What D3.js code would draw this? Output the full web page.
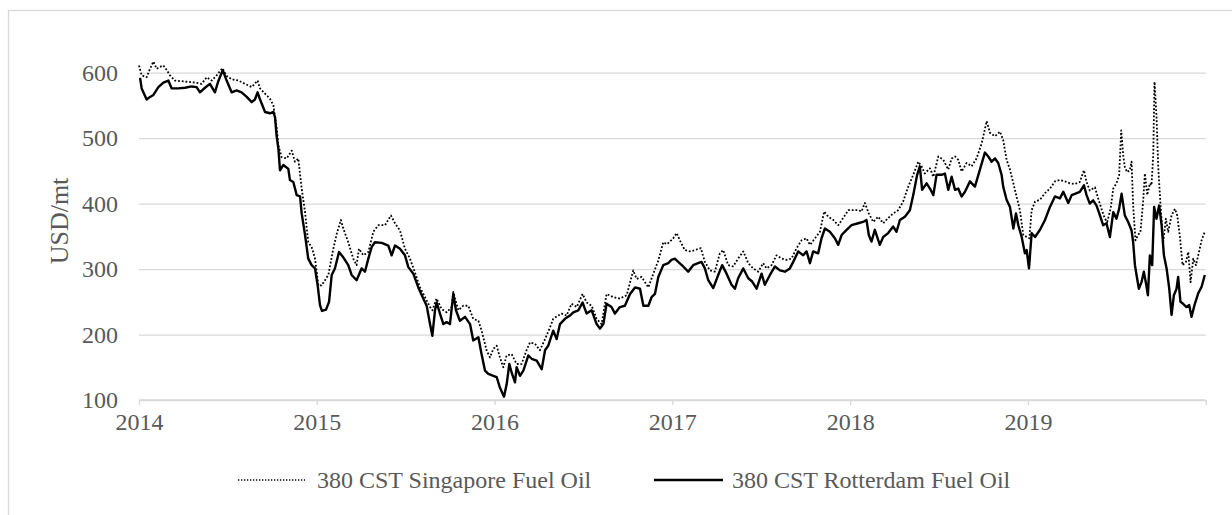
<!DOCTYPE html>
<html>
<head>
<meta charset="utf-8">
<script src="https://cdn.jsdelivr.net/npm/d3@7/dist/d3.min.js"></script>
<style>
	body { margin: 0; background: #fff; }
</style>
</head>
<body>
<svg id="chart" width="1232" height="515"></svg>
<script>
// [year (fractional), USD/mt]
var singapore = [
	[2014.000,611],[2014.015,596],[2014.043,593],[2014.062,606],[2014.081,617],[2014.099,606],[2014.118,609],
	[2014.137,611],[2014.156,604],[2014.174,596],[2014.202,588],[2014.240,587],[2014.277,586],[2014.315,585],
	[2014.352,583],[2014.381,593],[2014.409,588],[2014.437,596],[2014.469,607],[2014.493,595],[2014.521,590],
	[2014.559,588],[2014.596,583],[2014.634,578],[2014.667,588],[2014.681,576],[2014.709,568],[2014.737,560],
	[2014.756,550],[2014.765,532],[2014.774,517],[2014.784,489],[2014.802,471],[2014.831,469],[2014.859,481],
	[2014.877,464],[2014.896,469],[2014.915,423],[2014.934,387],[2014.952,341],[2014.971,334],[2014.990,316],
	[2015.009,275],[2015.027,275],[2015.065,291],[2015.093,331],[2015.115,357],[2015.136,375],[2015.149,362],
	[2015.177,341],[2015.205,316],[2015.224,306],[2015.237,331],[2015.262,321],[2015.290,326],[2015.318,357],
	[2015.346,367],[2015.384,367],[2015.417,382],[2015.440,370],[2015.468,359],[2015.496,331],[2015.524,316],
	[2015.552,295],[2015.580,272],[2015.609,257],[2015.637,242],[2015.650,237],[2015.674,255],[2015.702,239],
	[2015.730,234],[2015.759,242],[2015.768,265],[2015.796,237],[2015.824,244],[2015.852,244],[2015.880,224],
	[2015.909,221],[2015.927,206],[2015.955,176],[2015.974,165],[2015.993,178],[2016.012,183],[2016.030,165],
	[2016.049,150],[2016.068,168],[2016.096,170],[2016.124,155],[2016.152,155],[2016.180,176],[2016.199,188],
	[2016.227,186],[2016.255,176],[2016.284,193],[2016.312,211],[2016.330,224],[2016.358,229],[2016.377,232],
	[2016.405,229],[2016.433,247],[2016.462,242],[2016.495,262],[2016.518,249],[2016.546,244],[2016.574,224],
	[2016.602,216],[2016.630,262],[2016.668,257],[2016.705,255],[2016.743,260],[2016.780,298],[2016.799,285],
	[2016.827,288],[2016.865,272],[2016.893,293],[2016.921,313],[2016.949,341],[2016.970,338],[2016.986,342],
	[2017.005,347],[2017.024,355],[2017.042,344],[2017.070,329],[2017.099,327],[2017.127,329],[2017.160,332],
	[2017.183,311],[2017.211,298],[2017.239,296],[2017.267,324],[2017.286,329],[2017.314,306],[2017.342,304],
	[2017.370,316],[2017.399,327],[2017.427,309],[2017.455,301],[2017.483,296],[2017.511,309],[2017.530,301],
	[2017.558,306],[2017.586,321],[2017.614,316],[2017.642,314],[2017.670,316],[2017.699,332],[2017.727,344],
	[2017.755,347],[2017.774,337],[2017.802,347],[2017.830,357],[2017.854,388],[2017.877,380],[2017.905,375],
	[2017.933,367],[2017.961,378],[2017.989,390],[2018.017,390],[2018.045,390],[2018.064,388],[2018.083,401],
	[2018.105,385],[2018.130,372],[2018.158,380],[2018.186,370],[2018.214,378],[2018.242,385],[2018.270,390],
	[2018.298,403],[2018.327,426],[2018.355,444],[2018.383,464],[2018.402,457],[2018.420,446],[2018.449,454],
	[2018.468,441],[2018.496,472],[2018.524,467],[2018.552,452],[2018.571,469],[2018.590,472],[2018.608,467],
	[2018.627,449],[2018.655,462],[2018.683,457],[2018.711,469],[2018.740,492],[2018.768,526],[2018.787,508],
	[2018.815,503],[2018.843,510],[2018.861,497],[2018.880,467],[2018.899,452],[2018.927,421],[2018.955,390],
	[2018.974,352],[2018.993,349],[2019.008,347],[2019.021,390],[2019.040,403],[2019.068,406],[2019.096,416],
	[2019.124,423],[2019.152,434],[2019.180,436],[2019.208,434],[2019.236,431],[2019.264,430],[2019.292,433],
	[2019.315,451],[2019.330,433],[2019.348,420],[2019.377,425],[2019.395,408],[2019.414,392],[2019.433,377],
	[2019.446,372],[2019.465,392],[2019.480,423],[2019.498,431],[2019.513,443],[2019.525,512],[2019.536,474],
	[2019.545,456],[2019.558,448],[2019.573,451],[2019.583,464],[2019.592,397],[2019.605,344],[2019.620,352],
	[2019.633,357],[2019.648,403],[2019.658,446],[2019.671,413],[2019.686,431],[2019.695,428],[2019.705,474],
	[2019.712,586],[2019.723,535],[2019.733,456],[2019.746,397],[2019.761,341],[2019.776,377],[2019.789,357],
	[2019.808,382],[2019.827,392],[2019.840,382],[2019.855,349],[2019.870,306],[2019.889,311],[2019.902,326],
	[2019.915,280],[2019.930,316],[2019.945,306],[2019.958,321],[2019.977,344],[2019.995,357]
];

var rotterdam = [
	[2014.006,592],[2014.015,576],[2014.043,559],[2014.062,563],[2014.081,566],[2014.109,578],[2014.137,585],
	[2014.165,588],[2014.184,576],[2014.221,576],[2014.259,577],[2014.296,579],[2014.324,578],[2014.343,570],
	[2014.371,577],[2014.399,583],[2014.427,570],[2014.446,587],[2014.471,604],[2014.493,588],[2014.521,570],
	[2014.549,573],[2014.577,570],[2014.606,563],[2014.634,555],[2014.652,559],[2014.667,570],[2014.681,559],
	[2014.709,540],[2014.737,538],[2014.756,540],[2014.765,532],[2014.774,504],[2014.784,484],[2014.793,451],
	[2014.812,459],[2014.840,453],[2014.849,436],[2014.868,433],[2014.887,413],[2014.906,411],[2014.915,385],
	[2014.934,352],[2014.952,316],[2014.971,306],[2014.990,301],[2015.005,275],[2015.018,245],[2015.029,236],
	[2015.052,238],[2015.069,250],[2015.084,291],[2015.102,301],[2015.125,326],[2015.149,318],[2015.177,306],
	[2015.196,291],[2015.224,283],[2015.252,301],[2015.271,296],[2015.290,316],[2015.309,334],[2015.327,341],
	[2015.365,340],[2015.402,336],[2015.421,321],[2015.440,336],[2015.468,331],[2015.496,321],[2015.515,303],
	[2015.543,293],[2015.571,272],[2015.599,255],[2015.618,244],[2015.637,216],[2015.650,198],[2015.665,237],
	[2015.674,249],[2015.693,232],[2015.712,216],[2015.730,219],[2015.749,216],[2015.768,262],[2015.783,237],
	[2015.805,221],[2015.834,227],[2015.862,216],[2015.880,191],[2015.909,196],[2015.927,170],[2015.946,145],
	[2015.965,140],[2015.993,137],[2016.012,135],[2016.030,119],[2016.053,105],[2016.068,124],[2016.083,155],
	[2016.096,142],[2016.115,127],[2016.124,150],[2016.143,137],[2016.162,145],[2016.190,168],[2016.209,163],
	[2016.237,160],[2016.265,147],[2016.284,176],[2016.302,183],[2016.330,206],[2016.349,193],[2016.368,216],
	[2016.396,224],[2016.424,229],[2016.443,234],[2016.471,237],[2016.495,249],[2016.518,232],[2016.546,237],
	[2016.574,216],[2016.593,209],[2016.612,216],[2016.630,247],[2016.658,242],[2016.677,232],[2016.705,242],
	[2016.733,244],[2016.762,262],[2016.790,272],[2016.818,270],[2016.837,244],[2016.865,244],[2016.883,257],
	[2016.902,262],[2016.921,288],[2016.949,306],[2016.977,309],[2016.995,314],[2017.014,316],[2017.033,311],
	[2017.061,304],[2017.089,296],[2017.117,306],[2017.145,309],[2017.164,311],[2017.183,301],[2017.202,283],
	[2017.230,271],[2017.258,291],[2017.280,306],[2017.305,293],[2017.333,276],[2017.352,270],[2017.370,286],
	[2017.399,301],[2017.427,286],[2017.449,281],[2017.474,270],[2017.502,293],[2017.520,276],[2017.549,291],
	[2017.577,304],[2017.605,298],[2017.633,296],[2017.661,301],[2017.680,311],[2017.708,327],[2017.736,321],
	[2017.755,327],[2017.774,309],[2017.792,327],[2017.820,324],[2017.839,347],[2017.858,362],[2017.886,357],
	[2017.914,347],[2017.933,337],[2017.952,352],[2017.980,360],[2018.008,367],[2018.045,370],[2018.073,372],
	[2018.092,375],[2018.105,352],[2018.120,342],[2018.139,360],[2018.167,337],[2018.186,349],[2018.214,355],
	[2018.242,365],[2018.261,357],[2018.280,375],[2018.308,380],[2018.336,390],[2018.355,413],[2018.377,444],
	[2018.392,457],[2018.405,421],[2018.430,431],[2018.449,423],[2018.468,413],[2018.486,444],[2018.515,444],
	[2018.533,446],[2018.552,421],[2018.571,441],[2018.590,421],[2018.608,423],[2018.627,411],[2018.646,418],
	[2018.674,434],[2018.702,426],[2018.730,452],[2018.758,478],[2018.777,472],[2018.796,464],[2018.815,469],
	[2018.833,462],[2018.852,444],[2018.861,426],[2018.880,406],[2018.899,395],[2018.918,362],[2018.933,385],
	[2018.946,367],[2018.965,349],[2018.983,324],[2018.993,329],[2019.006,301],[2019.021,355],[2019.040,349],
	[2019.068,360],[2019.096,375],[2019.124,395],[2019.152,411],[2019.180,408],[2019.199,418],[2019.227,401],
	[2019.246,413],[2019.264,415],[2019.292,418],[2019.315,428],[2019.330,413],[2019.348,400],[2019.367,405],
	[2019.386,397],[2019.405,382],[2019.423,367],[2019.442,370],[2019.461,349],[2019.480,387],[2019.498,377],
	[2019.513,392],[2019.527,415],[2019.545,382],[2019.564,372],[2019.583,359],[2019.592,341],[2019.602,306],
	[2019.611,291],[2019.624,270],[2019.639,280],[2019.652,296],[2019.663,280],[2019.675,260],[2019.686,321],
	[2019.699,306],[2019.710,395],[2019.723,377],[2019.738,397],[2019.752,367],[2019.765,321],[2019.780,301],
	[2019.795,270],[2019.808,230],[2019.821,260],[2019.836,270],[2019.845,288],[2019.858,250],[2019.873,247],
	[2019.892,242],[2019.907,245],[2019.920,227],[2019.939,247],[2019.958,263],[2019.977,273],[2019.995,291]
];

var yearTicks = [2014, 2015, 2016, 2017, 2018, 2019, 2020];
var yearLabels = [2014, 2015, 2016, 2017, 2018, 2019];
var valueTicks = [100, 200, 300, 400, 500, 600];
var seriesNames = ["380 CST Singapore Fuel Oil", "380 CST Rotterdam Fuel Oil"];
var yTitle = "USD/mt";

var serif = "'Liberation Serif', 'Times New Roman', serif";
var textCol = "#595959";
var grid = "#d9d9d9";

var svg = d3.select("#chart");

// chart area border (runs off the right and bottom of the frame)
svg.append("rect")
	.attr("x", 8.5).attr("y", 10.5)
	.attr("width", 1240).attr("height", 520)
	.attr("fill", "none").attr("stroke", grid).attr("stroke-width", 1.3);

var x = d3.scaleLinear().domain([2014, 2020]).range([139, 1205.7]);
var y = d3.scaleLinear().domain([100, 600]).range([400, 72.7]);

// horizontal gridlines + y labels
var yAxis = d3.axisLeft(y).tickValues(valueTicks).tickSize(-(x.range()[1] - x.range()[0])).tickPadding(21);
var gy = svg.append("g").attr("transform", "translate(" + x.range()[0] + ",0)").call(yAxis);
gy.select(".domain").remove();
gy.selectAll(".tick line").attr("stroke", grid).attr("stroke-width", 1.3);
gy.selectAll(".tick text").attr("font-size", 24).attr("fill", textCol).attr("font-family", serif);

// x axis with ticks at each year boundary
var xAxis = d3.axisBottom(x).tickValues(yearTicks).tickSize(5).tickPadding(8)
	.tickFormat(function(d) { return yearLabels.indexOf(d) >= 0 ? d3.format("d")(d) : ""; });
var gx = svg.append("g").attr("transform", "translate(0," + y(100) + ")").call(xAxis);
gx.select(".domain").attr("stroke", grid).attr("stroke-width", 1.3).attr("d", "M" + x(2014) + ",0H" + x(2020));
gx.selectAll(".tick line").attr("stroke", grid).attr("stroke-width", 1.3);
gx.selectAll(".tick text").attr("font-size", 24).attr("fill", textCol).attr("font-family", serif);

svg.append("text")
	.attr("transform", "translate(68," + 221 + ") rotate(-90)")
	.attr("text-anchor", "middle")
	.attr("font-size", 26)
	.attr("font-family", serif)
	.attr("fill", textCol)
	.text(yTitle);

var line = d3.line()
	.x(function(d) { return x(d[0]); })
	.y(function(d) { return y(d[1]); });

svg.append("path").datum(singapore)
	.attr("d", line)
	.attr("fill", "none").attr("stroke", "#000")
	.attr("stroke-width", 1.8).attr("stroke-dasharray", "1.8,1.9")
	.attr("stroke-linejoin", "round");

svg.append("path").datum(rotterdam)
	.attr("d", line)
	.attr("fill", "none").attr("stroke", "#000")
	.attr("stroke-width", 2.4)
	.attr("stroke-linejoin", "round");

// legend
var legend = [
	{ name: seriesNames[0], x0: 238, x1: 305, tx: 317, dash: "1.3,1.7", w: 1.5 },
	{ name: seriesNames[1], x0: 654, x1: 723, tx: 732, dash: null, w: 2.4 }
];
var lg = svg.append("g").selectAll("g").data(legend).enter().append("g");
lg.append("line")
	.attr("x1", function(d) { return d.x0; })
	.attr("x2", function(d) { return d.x1; })
	.attr("y1", 480).attr("y2", 480)
	.attr("stroke", "#000")
	.attr("stroke-width", function(d) { return d.w; })
	.attr("stroke-dasharray", function(d) { return d.dash; });
lg.append("text")
	.attr("x", function(d) { return d.tx; })
	.attr("y", 488)
	.attr("font-size", 24)
	.attr("font-family", serif)
	.attr("fill", textCol)
	.text(function(d) { return d.name; });
</script>
</body>
</html>
